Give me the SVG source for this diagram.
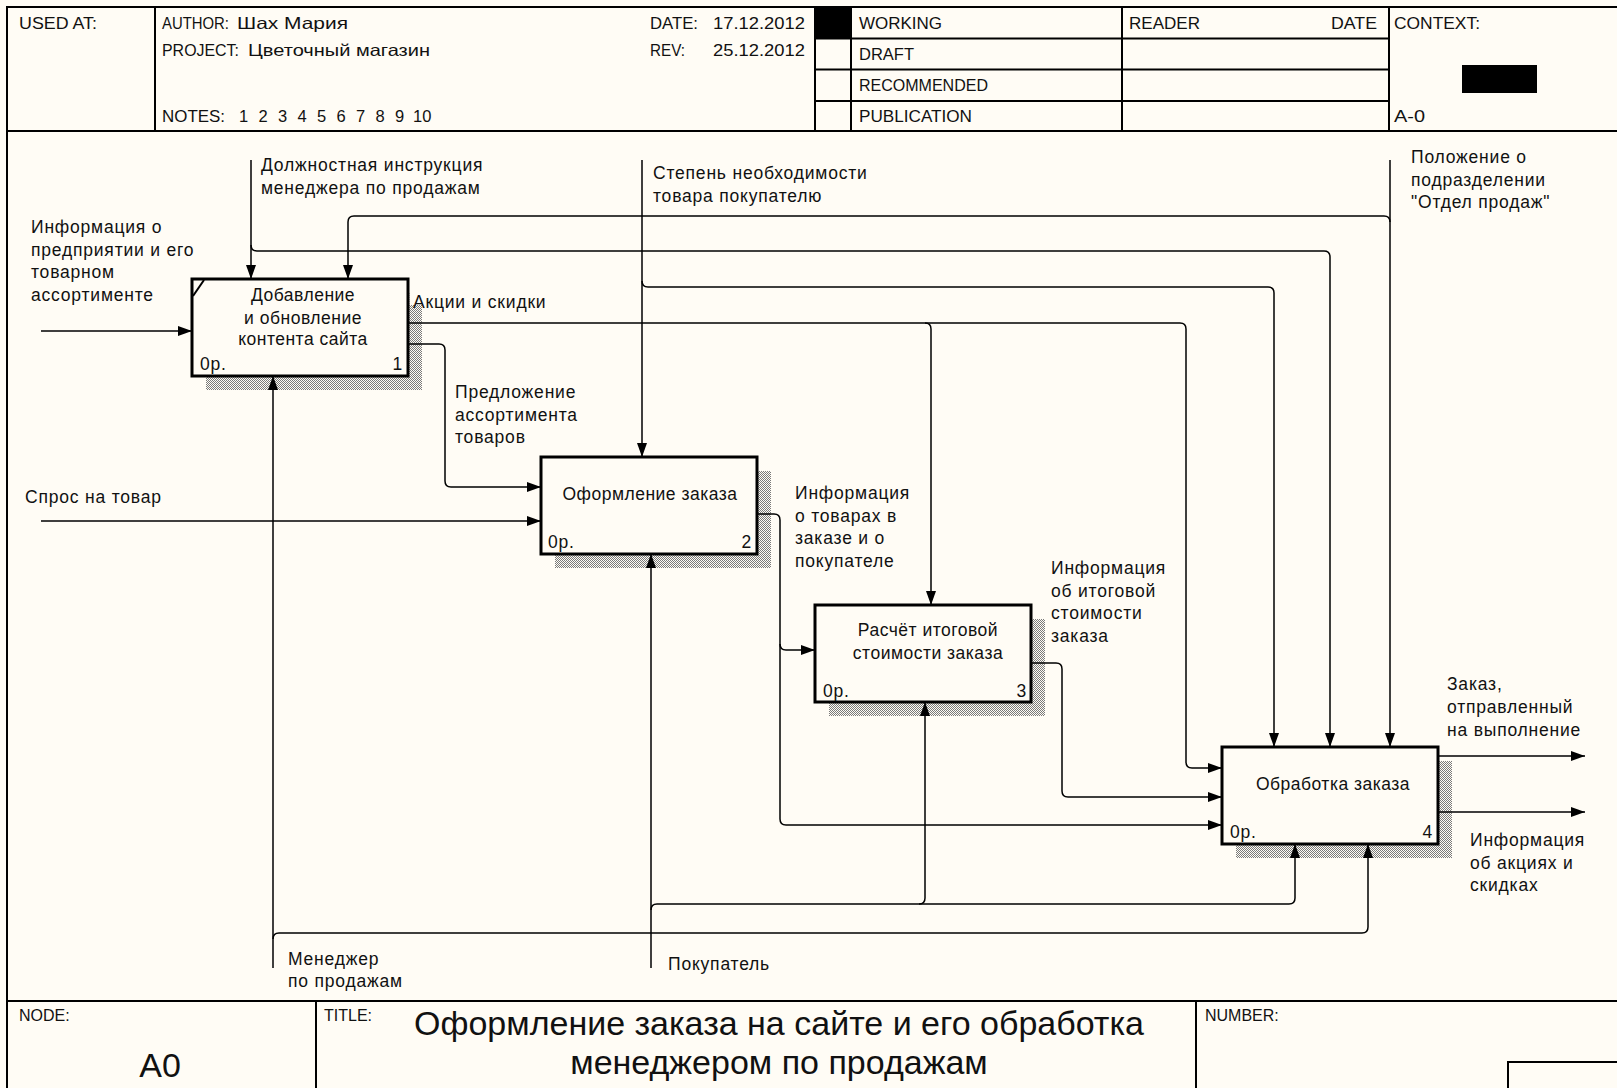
<svg xmlns="http://www.w3.org/2000/svg" width="1617" height="1088" viewBox="0 0 1617 1088">
<style>
.bg{fill:#FFFCF5}
.fr{stroke:#000;stroke-width:2;fill:none}
.h{font-family:"Liberation Sans",Arial,sans-serif;font-size:16.5px;fill:#111}
.f{font-family:"Liberation Sans",Arial,sans-serif;font-size:16px;fill:#111}
.t{font-family:"Liberation Sans",Arial,sans-serif;font-size:17.5px;fill:#111;letter-spacing:0.8px}
.bt{font-family:"Liberation Sans",Arial,sans-serif;font-size:17.5px;fill:#111;letter-spacing:0.5px;text-anchor:middle}
.box{fill:#FFFCF5;stroke:#000;stroke-width:3}
.sh{fill:url(#hatch)}
.c{fill:none;stroke:#000;stroke-width:1.5;marker-end:url(#arr)}
</style>
<defs>
<pattern id="hatch" width="2" height="2" patternUnits="userSpaceOnUse">
<rect width="2" height="2" fill="#FFFCF5"/>
<rect x="0" y="0" width="1" height="1" fill="#7a7a7a"/>
<rect x="1" y="1" width="1" height="1" fill="#7a7a7a"/>
</pattern>
<marker id="arr" markerUnits="userSpaceOnUse" markerWidth="14" markerHeight="10" refX="14" refY="5" orient="auto">
<path d="M0,0 L14,5 L0,10 z" fill="#000"/>
</marker>
</defs>
<rect class="bg" x="0" y="0" width="1617" height="1088"/>

<g id="frame">
<path class="fr" d="M7,1088 V7 H1617 M7,131 H1617 M7,1001 H1617"/>
<path class="fr" d="M155,7 V131 M815,7 V131 M851,7 V131 M1122,7 V131 M1389,7 V131 M815,38.5 H1389 M815,69.5 H1389 M815,101 H1389"/>
<rect x="815" y="7" width="36" height="31.5" fill="#000"/>
<rect x="1462" y="65" width="75" height="28" fill="#000"/>
<path class="fr" d="M316,1001 V1088 M1196,1001 V1088 M1508,1088 V1062 H1617"/>
</g>

<g id="header">
<text class="h" x="19" y="29" textLength="78" lengthAdjust="spacingAndGlyphs">USED AT:</text>
<text class="h" x="162" y="29" textLength="67" lengthAdjust="spacingAndGlyphs">AUTHOR:</text>
<text class="h" x="237" y="29" textLength="111" lengthAdjust="spacingAndGlyphs">Шах Мария</text>
<text class="h" x="162" y="56" textLength="77" lengthAdjust="spacingAndGlyphs">PROJECT:</text>
<text class="h" x="248" y="56" textLength="182" lengthAdjust="spacingAndGlyphs">Цветочный магазин</text>
<text class="h" x="162" y="122"><tspan textLength="63" lengthAdjust="spacingAndGlyphs">NOTES:</tspan><tspan x="239">1</tspan><tspan x="258.5">2</tspan><tspan x="278">3</tspan><tspan x="297.5">4</tspan><tspan x="317">5</tspan><tspan x="336.5">6</tspan><tspan x="356">7</tspan><tspan x="375.5">8</tspan><tspan x="395">9</tspan><tspan x="413">10</tspan></text>
<text class="h" x="650" y="29" textLength="48" lengthAdjust="spacingAndGlyphs">DATE:</text>
<text class="h" x="713" y="29" textLength="92" lengthAdjust="spacingAndGlyphs">17.12.2012</text>
<text class="h" x="650" y="56" textLength="35" lengthAdjust="spacingAndGlyphs">REV:</text>
<text class="h" x="713" y="56" textLength="92" lengthAdjust="spacingAndGlyphs">25.12.2012</text>
<text class="h" x="859" y="29" textLength="83" lengthAdjust="spacingAndGlyphs">WORKING</text>
<text class="h" x="859" y="60" textLength="55" lengthAdjust="spacingAndGlyphs">DRAFT</text>
<text class="h" x="859" y="91" textLength="129" lengthAdjust="spacingAndGlyphs">RECOMMENDED</text>
<text class="h" x="859" y="122" textLength="113" lengthAdjust="spacingAndGlyphs">PUBLICATION</text>
<text class="h" x="1129" y="29" textLength="71" lengthAdjust="spacingAndGlyphs">READER</text>
<text class="h" x="1331" y="29" textLength="46" lengthAdjust="spacingAndGlyphs">DATE</text>
<text class="h" x="1394" y="29" textLength="86" lengthAdjust="spacingAndGlyphs">CONTEXT:</text>
<text class="h" x="1394" y="122" textLength="31" lengthAdjust="spacingAndGlyphs">A-0</text>
</g>

<g id="footer">
<text class="f" x="19" y="1021">NODE:</text>
<text class="f" x="324" y="1021">TITLE:</text>
<text class="f" x="1205" y="1021">NUMBER:</text>
<text x="160" y="1077" font-family="Liberation Sans, Arial, sans-serif" font-size="34" text-anchor="middle" fill="#111">A0</text>
<text x="779" y="1035" font-family="Liberation Sans, Arial, sans-serif" font-size="34" text-anchor="middle" fill="#111">Оформление заказа на сайте и его обработка</text>
<text x="779" y="1074" font-family="Liberation Sans, Arial, sans-serif" font-size="34" text-anchor="middle" fill="#111">менеджером по продажам</text>
</g>

<g id="shadows">
<rect class="sh" x="206" y="293" width="216" height="97"/>
<rect class="sh" x="555" y="471" width="216" height="97"/>
<rect class="sh" x="829" y="619" width="216" height="97"/>
<rect class="sh" x="1236" y="761" width="216" height="97"/>
<rect class="bg" x="409.5" y="293" width="14" height="12"/>
</g>

<g id="connectors">
<path class="c" d="M41,331 H192"/>
<path class="c" d="M41,521 H541"/>
<path class="c" d="M408,344 H439 Q445,344 445,350 V481 Q445,487 451,487 H541"/>
<path class="c" d="M408,323 H1180 Q1186,323 1186,329 V762 Q1186,768 1192,768 H1222"/>
<path class="c" d="M925,323 Q931,323 931,329 V605"/>
<path class="c" d="M757,514 H774 Q780,514 780,520 V819 Q780,825 786,825 H1222"/>
<path class="c" d="M780,644 Q780,650 786,650 H815"/>
<path class="c" d="M1031,663 H1056 Q1062,663 1062,669 V791 Q1062,797 1068,797 H1222"/>
<path class="c" d="M1438,756 H1585"/>
<path class="c" d="M1438,812 H1585"/>
<path class="c" d="M1390,160 V747"/>
<path class="c" d="M1390,222 Q1390,216 1384,216 H354 Q348,216 348,222 V279"/>
<path class="c" d="M251,160 V279"/>
<path class="c" d="M251,245 Q251,251 257,251 H1324 Q1330,251 1330,257 V747"/>
<path class="c" d="M642,160 V457"/>
<path class="c" d="M642,281 Q642,287 648,287 H1268 Q1274,287 1274,293 V747"/>
<path class="c" d="M273,968 V376"/>
<path class="c" d="M273,939 Q273,933 279,933 H1362 Q1368,933 1368,927 V844"/>
<path class="c" d="M651,968 V554"/>
<path class="c" d="M651,910 Q651,904 657,904 H1289 Q1295,904 1295,898 V844"/>
<path class="c" d="M919,904 Q925,904 925,898 V702"/>
</g>

<g id="node-1">
<rect class="box" x="192" y="279" width="216" height="97"/>
<path d="M193,296 L204,280" stroke="#000" stroke-width="2"/>
<text class="bt" x="303" y="301">Добавление</text>
<text class="bt" x="303" y="324">и обновление</text>
<text class="bt" x="303" y="345">контента сайта</text>
<text class="t" x="200" y="370">0р.</text>
<text class="t" x="403" y="370" text-anchor="end">1</text>
</g>
<g id="node-2">
<rect class="box" x="541" y="457" width="216" height="97"/>
<text class="bt" x="650" y="500">Оформление заказа</text>
<text class="t" x="548" y="548">0р.</text>
<text class="t" x="752" y="548" text-anchor="end">2</text>
</g>
<g id="node-3">
<rect class="box" x="815" y="605" width="216" height="97"/>
<text class="bt" x="928" y="636">Расчёт итоговой</text>
<text class="bt" x="928" y="659">стоимости заказа</text>
<text class="t" x="823" y="697">0р.</text>
<text class="t" x="1027" y="697" text-anchor="end">3</text>
</g>
<g id="node-4">
<rect class="box" x="1222" y="747" width="216" height="97"/>
<text class="bt" x="1333" y="790">Обработка заказа</text>
<text class="t" x="1230" y="838">0р.</text>
<text class="t" x="1433" y="838" text-anchor="end">4</text>
</g>

<g id="labels">
<text class="t" x="31" y="233">Информация о</text>
<text class="t" x="31" y="255.5">предприятии и его</text>
<text class="t" x="31" y="278">товарном</text>
<text class="t" x="31" y="300.5">ассортименте</text>
<text class="t" x="261" y="171">Должностная инструкция</text>
<text class="t" x="261" y="193.5">менеджера по продажам</text>
<text class="t" x="653" y="179">Степень необходимости</text>
<text class="t" x="653" y="201.5">товара покупателю</text>
<text class="t" x="1411" y="163">Положение о</text>
<text class="t" x="1411" y="185.5">подразделении</text>
<text class="t" x="1411" y="208">"Отдел продаж"</text>
<text class="t" x="413" y="308">Акции и скидки</text>
<text class="t" x="455" y="398">Предложение</text>
<text class="t" x="455" y="420.5">ассортимента</text>
<text class="t" x="455" y="443">товаров</text>
<text class="t" x="25" y="503">Спрос на товар</text>
<text class="t" x="795" y="499">Информация</text>
<text class="t" x="795" y="521.5">о товарах в</text>
<text class="t" x="795" y="544">заказе и о</text>
<text class="t" x="795" y="566.5">покупателе</text>
<text class="t" x="1051" y="574">Информация</text>
<text class="t" x="1051" y="596.5">об итоговой</text>
<text class="t" x="1051" y="619">стоимости</text>
<text class="t" x="1051" y="641.5">заказа</text>
<text class="t" x="1447" y="690">Заказ,</text>
<text class="t" x="1447" y="713">отправленный</text>
<text class="t" x="1447" y="736">на выполнение</text>
<text class="t" x="1470" y="846">Информация</text>
<text class="t" x="1470" y="868.5">об акциях и</text>
<text class="t" x="1470" y="891">скидках</text>
<text class="t" x="288" y="965">Менеджер</text>
<text class="t" x="288" y="987">по продажам</text>
<text class="t" x="668" y="970">Покупатель</text>
</g>
</svg>
